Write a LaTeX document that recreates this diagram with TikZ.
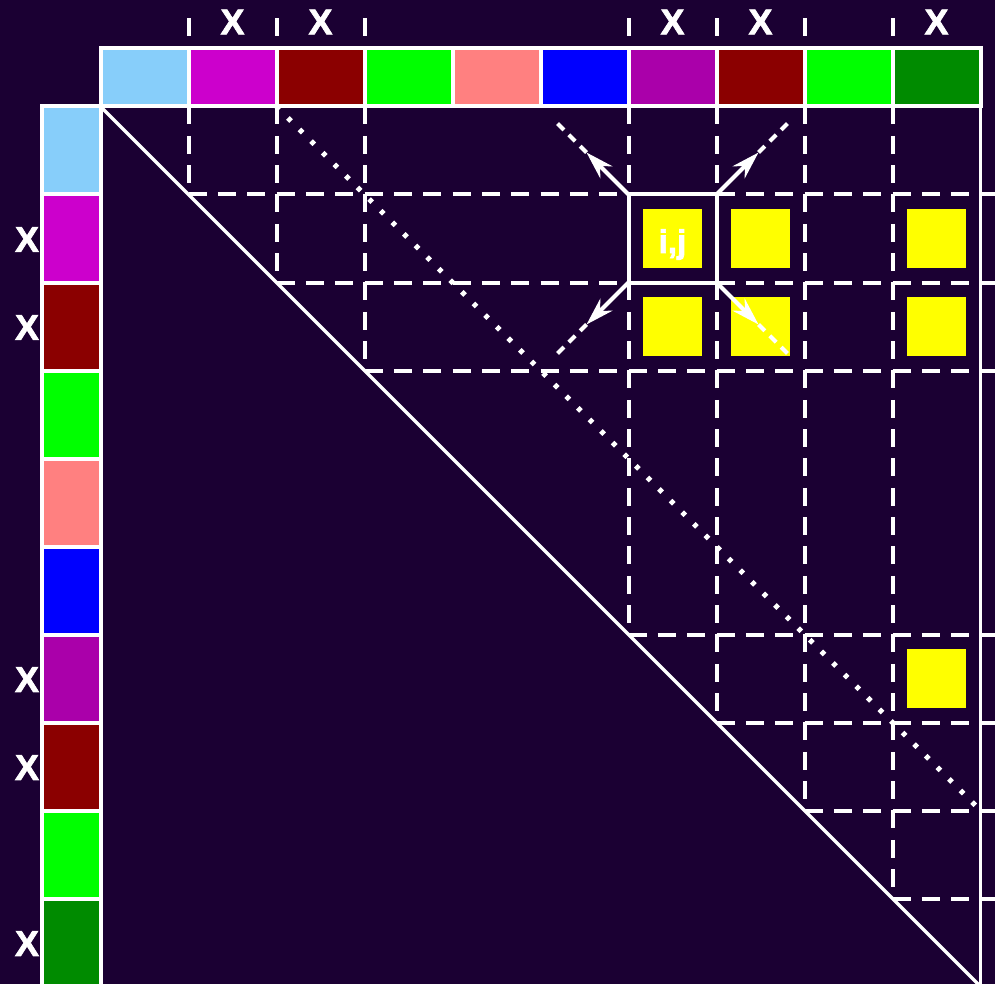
\documentclass[tikz,border=0pt]{standalone}
\usepackage{fontspec}
\setmainfont{Liberation Sans}
\newfontfamily\lblfont[FakeBold=2]{Liberation Sans Bold}
\usetikzlibrary{arrows.meta,calc}
\definecolor{bgc}{HTML}{1B0033}
\definecolor{cA}{HTML}{87CEFA}
\definecolor{cB}{HTML}{CC00CC}
\definecolor{cC}{HTML}{8B0000}
\definecolor{cD}{HTML}{00FF00}
\definecolor{cE}{HTML}{FF8080}
\definecolor{cF}{HTML}{0000FF}
\definecolor{cG}{HTML}{AA00AA}
\definecolor{cH}{HTML}{008B00}
\definecolor{hitc}{HTML}{FFFF00}
\begin{document}
\begin{tikzpicture}[x=1pt,y=-1pt,
  gridline/.style={white, line width=4pt, dash pattern=on 18pt off 11.333pt},
  diagdots/.style={white, line width=5pt, dash pattern=on 4.5pt off 11.9pt, dash phase=0.3pt},
  contdash/.style={white, line width=4pt, dash pattern=on 9pt off 7pt},
  triedge/.style={white, line width=3.3pt},
  cellbox/.style={draw=white, line width=4pt, inner sep=0pt, outer sep=0pt, rectangle},
  topcell/.style={cellbox, minimum width=88pt, minimum height=58.5pt},
  leftcell/.style={cellbox, minimum width=58.5pt, minimum height=88pt},
  xlabel/.style={text=white, font=\lblfont\fontsize{36}{36}\selectfont, inner sep=0pt},
  ijlabel/.style={text=white, font=\lblfont\fontsize{33}{33}\selectfont, inner sep=0pt},
  hit/.style={fill=hitc, minimum size=59pt, inner sep=0pt, outer sep=0pt},
  arrowline/.style={white, line width=4pt, -{Stealth[length=28pt,width=17pt,inset=9pt]}}
]
\useasboundingbox (0,0) rectangle (995,984);
\clip (0,0) rectangle (995,984);
\fill[bgc] (0,0) rectangle (995,984);

% dashed grid lines of the marked rows and columns
\foreach \k in {1,2,3,6,7,8,9} {
  \draw[gridline] ({100.5+88*\k},18.5) -- ({100.5+88*\k},{106.5+88*\k});
  \draw[gridline] ({100.5+88*\k},{106.5+88*\k}) -- (1010,{106.5+88*\k});
}

% dotted diagonal
\draw[diagdots] (276.5,106.5) -- (980.5,810.5);

% triangle edges
\draw[triedge] (100.5,106.5) -- (980.5,986.5);
\draw[triedge] (980.5,106.5) -- (980.5,995);

% colour cells
\foreach \c [count=\k from 0] in {cA,cB,cC,cD,cE,cF,cG,cC,cD,cH} {
  \node[topcell, fill=\c] (top\k) at ({144.5+88*\k}, 77.25) {};
  \node[leftcell, fill=\c] (left\k) at (71.25, {150.5+88*\k}) {};
}

% X labels
\foreach \k in {1,2,6,7,9} {
  \node[xlabel] (xt\k) at ({144.5+88*\k}, 22) {X};
  \node[xlabel] (xl\k) at (27, {151.5+88*\k}) {X};
}

% yellow squares
\foreach \cx/\cy [count=\n] in {6/1,7/1,9/1,6/2,7/2,9/2,9/6} {
  \node[hit] (hit\n) at ({144.5+88*\cx},{150.5+88*\cy}) {};
}

% the (i,j) cell
\node[cellbox, minimum size=88pt] (ij) at (672.5,238.5) {};
\node[ijlabel, anchor=base] (ijtext) at (672.5,253) {i,j};

% arrows from the corners
\coordinate (tipNW) at ($(ij.north west)+(-42,-42)$);
\coordinate (endNW) at ($(ij.north west)+(-73,-73)$);
\coordinate (tipNE) at ($(ij.north east)+(42,-42)$);
\coordinate (endNE) at ($(ij.north east)+(73,-73)$);
\coordinate (tipSW) at ($(ij.south west)+(-42,42)$);
\coordinate (endSW) at ($(ij.south west)+(-73,73)$);
\coordinate (tipSE) at ($(ij.south east)+(42,42)$);
\coordinate (endSE) at ($(ij.south east)+(73,73)$);
\draw[contdash] (tipNW) -- (endNW);
\draw[contdash] (tipNE) -- (endNE);
\draw[contdash] (tipSW) -- (endSW);
\draw[contdash] (tipSE) -- (endSE);
\draw[arrowline] (ij.north west) -- (tipNW);
\draw[arrowline] (ij.north east) -- (tipNE);
\draw[arrowline] (ij.south west) -- (tipSW);
\draw[arrowline] (ij.south east) -- (tipSE);
\end{tikzpicture}
\end{document}
